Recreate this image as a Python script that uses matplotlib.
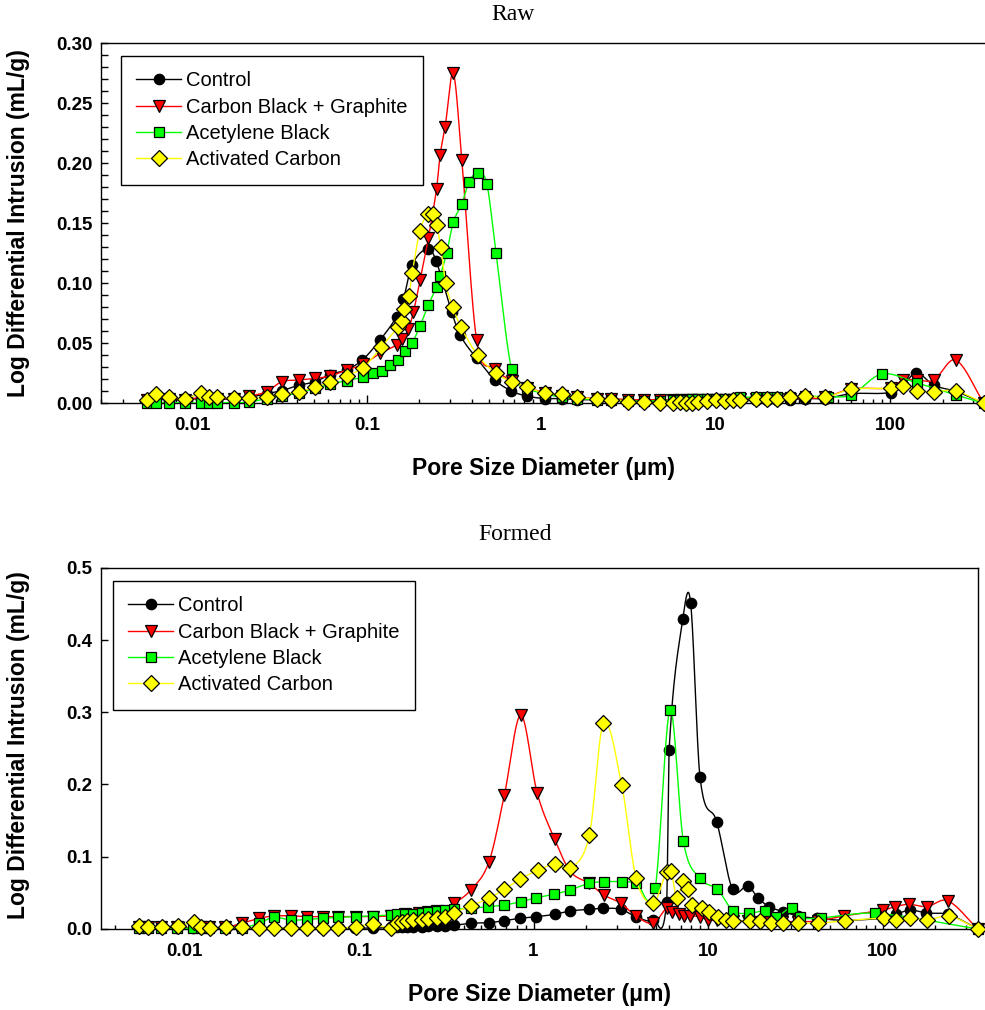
import numpy as np
import matplotlib
matplotlib.use('Agg')
import matplotlib.pyplot as plt
from matplotlib.lines import Line2D
from matplotlib.ticker import FixedLocator, LogLocator, NullFormatter, MultipleLocator, FuncFormatter

# ---------------- data: Raw ----------------
raw_ctrl_d = [0.0055, 0.0062, 0.0073, 0.0091, 0.0112, 0.0124, 0.0139, 0.0172, 0.0212, 0.0266,
              0.0325, 0.0406, 0.0505, 0.0617, 0.0766, 0.0941, 0.119, 0.148, 0.162, 0.181,
              0.225, 0.249, 0.306, 0.342, 0.426, 0.543, 0.669, 0.825, 1.05, 1.31,
              1.61, 2.08, 2.50, 3.15, 3.86, 4.80, 5.70, 6.24, 6.80, 7.30,
              7.90, 8.95, 10.0, 11.3, 12.5, 13.8, 17.0, 19.6, 22.6, 26.6,
              32.6, 42.4, 59.8, 101, 119, 141, 178, 238, 345]
raw_ctrl_v = [0.003, 0.004, 0.003, 0.003, 0.004, 0.003, 0.003, 0.004, 0.005, 0.008,
              0.0105, 0.015, 0.018, 0.024, 0.028, 0.036, 0.0528, 0.0722, 0.0867, 0.115,
              0.129, 0.119, 0.0763, 0.057, 0.0375, 0.0194, 0.0105, 0.006, 0.004, 0.004,
              0.003, 0.003, 0.002, 0.002, 0.002, 0.002, 0.002, 0.002, 0.002, 0.002,
              0.002, 0.003, 0.003, 0.003, 0.003, 0.003, 0.003, 0.003, 0.003, 0.003,
              0.004, 0.004, 0.008, 0.009, 0.015, 0.0255, 0.015, 0.010, 0.0]

raw_cbg_d = [0.0055, 0.0062, 0.0073, 0.0091, 0.0112, 0.0124, 0.0139, 0.0172, 0.0212, 0.0266,
             0.0325, 0.0406, 0.0505, 0.0617, 0.0766, 0.0954, 0.119, 0.148, 0.158, 0.173,
             0.185, 0.202, 0.225, 0.251, 0.263, 0.281, 0.313, 0.350, 0.426, 0.543,
             0.676, 0.830, 1.05, 1.31, 1.61, 2.08, 2.50, 3.15, 3.86, 4.80,
             5.70, 6.24, 6.80, 7.30, 7.90, 8.95, 10.0, 11.3, 12.5, 13.8,
             17.0, 19.6, 22.6, 26.6, 32.6, 42.4, 59.8, 101, 119, 142,
             178, 238, 345]
raw_cbg_v = [0.003, 0.004, 0.004, 0.003, 0.005, 0.004, 0.004, 0.004, 0.006, 0.0097,
             0.018, 0.0194, 0.0208, 0.0228, 0.0278, 0.0325, 0.0417, 0.0486, 0.0533, 0.0617,
             0.0764, 0.1028, 0.1375, 0.179, 0.207, 0.2305, 0.275, 0.2028, 0.0528, 0.029,
             0.0186, 0.013, 0.009, 0.006, 0.005, 0.004, 0.004, 0.003, 0.003, 0.003,
             0.003, 0.003, 0.003, 0.003, 0.003, 0.003, 0.003, 0.003, 0.003, 0.004,
             0.004, 0.004, 0.004, 0.004, 0.004, 0.005, 0.012, 0.013, 0.0194, 0.0194,
             0.0194, 0.036, 0.0]

raw_ab_d = [0.0055, 0.0062, 0.0073, 0.0091, 0.0112, 0.0124, 0.0139, 0.0172, 0.0212, 0.0266,
            0.0325, 0.0406, 0.0505, 0.0617, 0.0766, 0.0954, 0.108, 0.122, 0.136, 0.151,
            0.166, 0.182, 0.202, 0.225, 0.251, 0.263, 0.287, 0.313, 0.350, 0.385,
            0.432, 0.487, 0.550, 0.676, 0.830, 1.05, 1.31, 1.61, 2.08, 2.50,
            3.15, 3.86, 4.80, 5.70, 6.24, 6.80, 7.30, 7.90, 8.95, 10.0,
            11.3, 12.5, 13.8, 17.0, 19.6, 22.6, 26.6, 32.6, 44.2, 59.8,
            89.5, 142, 238, 345]
raw_ab_v = [0.0005, 0.0005, 0.0005, 0.0005, 0.0, 0.0, 0.0005, 0.0005, 0.001, 0.004,
            0.006, 0.0086, 0.0125, 0.0158, 0.019, 0.0217, 0.025, 0.027, 0.032, 0.036,
            0.0436, 0.0505, 0.0647, 0.082, 0.097, 0.106, 0.1255, 0.151, 0.166, 0.1847,
            0.1917, 0.183, 0.125, 0.0283, 0.013, 0.008, 0.005, 0.004, 0.003, 0.003,
            0.002, 0.002, 0.002, 0.003, 0.003, 0.003, 0.004, 0.004, 0.004, 0.004,
            0.004, 0.004, 0.005, 0.005, 0.005, 0.005, 0.005, 0.006, 0.0055, 0.007,
            0.0244, 0.017, 0.007, 0.0]

raw_ac_d = [0.0055, 0.0062, 0.0073, 0.0091, 0.0112, 0.0124, 0.0139, 0.0172, 0.0212, 0.0266,
            0.0325, 0.0406, 0.0505, 0.0617, 0.0766, 0.0954, 0.1205, 0.150, 0.158, 0.164,
            0.174, 0.182, 0.201, 0.225, 0.240, 0.251, 0.265, 0.283, 0.310, 0.345,
            0.432, 0.550, 0.676, 0.830, 1.05, 1.31, 1.61, 2.08, 2.50, 3.15,
            3.86, 4.80, 5.70, 6.24, 6.80, 7.30, 7.90, 8.95, 10.0, 11.3,
            12.5, 13.8, 17.0, 19.6, 22.6, 26.6, 32.6, 42.4, 59.8, 101,
            119, 142, 178, 238, 345]
raw_ac_v = [0.0028, 0.0078, 0.0055, 0.0036, 0.0083, 0.0055, 0.005, 0.0042, 0.0042, 0.005,
            0.0078, 0.0097, 0.0133, 0.018, 0.023, 0.0297, 0.0467, 0.0633, 0.069, 0.079,
            0.0897, 0.109, 0.1436, 0.158, 0.1578, 0.1486, 0.1305, 0.100, 0.0805, 0.0639,
            0.040, 0.025, 0.018, 0.0133, 0.0085, 0.0078, 0.005, 0.0036, 0.0028, 0.0014,
            0.0008, 0.0, 0.0, 0.001, 0.0, 0.0, 0.001, 0.002, 0.003, 0.002,
            0.003, 0.003, 0.0036, 0.0036, 0.0036, 0.0056, 0.0064, 0.005, 0.0117, 0.0125,
            0.0144, 0.0103, 0.0097, 0.0103, 0.0]

# ---------------- data: Formed ----------------
frm_ctrl_d = [0.0055, 0.0062, 0.0073, 0.0091, 0.0112, 0.0124, 0.0139, 0.0172, 0.0212, 0.0266,
              0.0325, 0.0406, 0.0505, 0.0617, 0.0766, 0.0955, 0.120, 0.152, 0.165, 0.176,
              0.188, 0.204, 0.229, 0.250, 0.279, 0.311, 0.350, 0.437, 0.556, 0.678,
              0.837, 1.04, 1.32, 1.62, 2.08, 2.51, 3.17, 3.86, 4.86, 5.79,
              5.98, 7.16, 7.94, 8.99, 11.2, 13.8, 16.9, 19.4, 22.4, 27.0,
              32.8, 41.8, 60.0, 101, 119, 143, 178, 238, 350]
frm_ctrl_v = [0.001, 0.001, 0.001, 0.001, 0.001, 0.001, 0.001, 0.001, 0.001, 0.001,
              0.001, 0.001, 0.001, 0.001, 0.001, 0.001, 0.001, 0.002, 0.002, 0.002,
              0.002, 0.003, 0.003, 0.004, 0.004, 0.004, 0.005, 0.0078, 0.0086, 0.0114,
              0.0147, 0.0169, 0.0202, 0.0248, 0.0271, 0.0285, 0.0271, 0.0169, 0.0123, 0.0377,
              0.248, 0.4288, 0.4518, 0.21, 0.1485, 0.0548, 0.0594, 0.0424, 0.0307, 0.0238,
              0.0179, 0.0147, 0.012, 0.015, 0.02, 0.026, 0.022, 0.02, 0.0]

frm_cbg_d = [0.0055, 0.0062, 0.0073, 0.0091, 0.0112, 0.0124, 0.0139, 0.0172, 0.0213, 0.0269,
             0.0324, 0.0407, 0.0506, 0.062, 0.0762, 0.0962, 0.121, 0.152, 0.184, 0.220,
             0.250, 0.280, 0.350, 0.437, 0.556, 0.681, 0.845, 1.05, 1.32, 1.62,
             2.08, 2.53, 3.16, 3.86, 4.86, 5.79, 6.24, 6.80, 7.30, 7.90,
             8.95, 10.0, 11.3, 12.5, 13.8, 17.0, 19.6, 22.6, 26.6, 32.6,
             42.4, 60.0, 101, 117, 141, 179, 236, 350]
frm_cbg_v = [0.002, 0.002, 0.002, 0.002, 0.002, 0.002, 0.002, 0.002, 0.0078, 0.0147,
             0.0179, 0.018, 0.017, 0.017, 0.017, 0.017, 0.017, 0.018, 0.020, 0.022,
             0.023, 0.025, 0.0355, 0.0539, 0.093, 0.1855, 0.296, 0.188, 0.1245, 0.080,
             0.063, 0.047, 0.0355, 0.0179, 0.0078, 0.0285, 0.0238, 0.020, 0.0179, 0.018,
             0.017, 0.0123, 0.012, 0.011, 0.011, 0.011, 0.010, 0.010, 0.010, 0.010,
             0.011, 0.018, 0.026, 0.0307, 0.034, 0.031, 0.039, 0.0]

frm_ab_d = [0.0055, 0.0062, 0.0073, 0.0091, 0.0112, 0.0124, 0.0139, 0.0172, 0.0213, 0.0269,
            0.0324, 0.0407, 0.0506, 0.062, 0.0762, 0.0962, 0.121, 0.152, 0.165, 0.184,
            0.204, 0.229, 0.250, 0.279, 0.311, 0.350, 0.437, 0.551, 0.680, 0.845,
            1.04, 1.31, 1.62, 2.09, 2.53, 3.20, 3.86, 4.97, 6.05, 7.21,
            8.99, 11.3, 13.9, 17.1, 21.3, 24.5, 30.2, 33.6, 44.6, 90.3,
            350]
frm_ab_v = [0.001, 0.001, 0.001, 0.001, 0.001, 0.001, 0.001, 0.001, 0.001, 0.008,
            0.016, 0.0123, 0.013, 0.0147, 0.016, 0.017, 0.018, 0.0193, 0.020, 0.0206,
            0.021, 0.022, 0.024, 0.025, 0.026, 0.027, 0.0285, 0.0307, 0.033, 0.0377,
            0.0432, 0.0479, 0.0539, 0.0632, 0.0654, 0.0654, 0.064, 0.0562, 0.303, 0.122,
            0.070, 0.0548, 0.0252, 0.0216, 0.0248, 0.0169, 0.0294, 0.016, 0.0155, 0.0216,
            0.0]

frm_ac_d = [0.0055, 0.0062, 0.0074, 0.0092, 0.0113, 0.0124, 0.0140, 0.0173, 0.0213, 0.0269,
            0.0324, 0.0407, 0.0506, 0.062, 0.0762, 0.0962, 0.121, 0.152, 0.165, 0.176,
            0.188, 0.204, 0.229, 0.250, 0.279, 0.311, 0.350, 0.437, 0.556, 0.680,
            0.837, 1.065, 1.33, 1.62, 2.09, 2.51, 3.20, 3.87, 4.86, 5.79,
            6.15, 6.61, 7.21, 7.70, 8.07, 9.20, 10.1, 11.4, 12.7, 13.9,
            17.4, 19.8, 22.9, 27.0, 32.8, 42.4, 60.8, 102, 120, 143,
            179, 240, 350]
frm_ac_v = [0.004, 0.003, 0.003, 0.004, 0.009, 0.003, 0.001, 0.002, 0.002, 0.001,
            0.0015, 0.001, 0.001, 0.001, 0.001, 0.003, 0.0068, 0.001, 0.0078, 0.0099,
            0.0115, 0.012, 0.013, 0.0143, 0.0157, 0.0166, 0.0225, 0.0317, 0.0424, 0.0548,
            0.0687, 0.0816, 0.0895, 0.084, 0.130, 0.2847, 0.1993, 0.070, 0.0363, 0.079,
            0.080, 0.0424, 0.0668, 0.0548, 0.033, 0.0285, 0.0238, 0.017, 0.0123, 0.0107,
            0.011, 0.0107, 0.008, 0.008, 0.008, 0.0075, 0.0114, 0.0147, 0.0123, 0.0147,
            0.0123, 0.0179, 0.0]

labels = ["Control", "Carbon Black + Graphite", "Acetylene Black", "Activated Carbon"]
x_tick_vals = [0.01, 0.1, 1, 10, 100]
x_tick_labels = ["0.01", "0.1", "1", "10", "100"]

# ---------------- styling ----------------
SANS = ['Liberation Sans', 'DejaVu Sans']
SERIF = ['Liberation Serif', 'DejaVu Serif']
styles = [
    dict(color='black', marker='o', ms=7.5, mfc='black'),
    dict(color='#ff0000', marker='v', ms=8.5, mfc='#ff0000'),
    dict(color='#00ff00', marker='s', ms=7.5, mfc='#00ff00'),
    dict(color='#ffff00', marker='D', ms=8.3, mfc='#ffff00'),
]


def smooth(d, v, n=24):
    lx = np.log10(np.asarray(d, float))
    y = np.asarray(v, float)
    m = np.zeros_like(y)
    m[1:-1] = (y[2:] - y[:-2]) / (lx[2:] - lx[:-2])
    m[0] = (y[1] - y[0]) / (lx[1] - lx[0])
    m[-1] = (y[-1] - y[-2]) / (lx[-1] - lx[-2])
    t = np.linspace(0, 1, n)
    h00 = 2 * t**3 - 3 * t**2 + 1
    h10 = t**3 - 2 * t**2 + t
    h01 = -2 * t**3 + 3 * t**2
    h11 = t**3 - t**2
    xs, ys = [], []
    for i in range(len(lx) - 1):
        h = lx[i + 1] - lx[i]
        xs.append(lx[i] + t * h)
        ys.append(h00 * y[i] + h10 * h * m[i] + h01 * y[i + 1] + h11 * h * m[i + 1])
    return 10 ** np.concatenate(xs), np.concatenate(ys)


def draw(ax, series, xlim, ylim, ymajor, yminor, yfmt):
    for k, (d, v) in enumerate(series):
        st = styles[k]
        sx, sy = smooth(d, v)
        ax.plot(sx, sy, '-', color=st['color'], lw=1.0, zorder=2 + 2 * k)
        ax.plot(d, v, linestyle='none', marker=st['marker'], ms=st['ms'],
                mfc=st['mfc'], mec='black', mew=0.9, zorder=3 + 2 * k, clip_on=False)
    ax.set_xscale('log')
    ax.set_xlim(*xlim)
    ax.set_ylim(*ylim)
    ax.xaxis.set_major_locator(FixedLocator(x_tick_vals))
    ax.xaxis.set_major_formatter(FuncFormatter(
        lambda x, p: x_tick_labels[x_tick_vals.index(x)] if x in x_tick_vals else ''))
    ax.xaxis.set_minor_locator(LogLocator(base=10, subs=np.arange(2, 10), numticks=20))
    ax.xaxis.set_minor_formatter(NullFormatter())
    ax.yaxis.set_major_locator(MultipleLocator(ymajor))
    if yminor:
        ax.yaxis.set_minor_locator(MultipleLocator(yminor))
    ax.yaxis.set_major_formatter(FuncFormatter(lambda y, p: yfmt.format(y)))
    ax.tick_params(axis='x', which='major', direction='in', length=6, width=1, pad=10)
    ax.tick_params(axis='x', which='minor', direction='in', length=3, width=1)
    ax.tick_params(axis='y', which='both', direction='in', length=5, width=1, pad=6)
    ax.tick_params(top=False, right=False, which='both')
    for lab in ax.get_xticklabels() + ax.get_yticklabels():
        lab.set_fontfamily(SANS)
        lab.set_fontweight('bold')
        lab.set_fontsize(13.5)
    for sp in ax.spines.values():
        sp.set_linewidth(1.0)
    ax.set_xlabel('Pore Size Diameter (\u03bcm)', fontsize=16.5, fontweight='bold', family=SANS)
    ax.set_ylabel('Log Differential Intrusion (mL/g)', fontsize=16.5, fontweight='bold', family=SANS)


def legend(ax, anchor):
    handles = [Line2D([0], [0], color=s['color'], lw=1.0, marker=s['marker'], ms=s['ms'],
                      mfc=s['mfc'], mec='black', mew=0.9) for s in styles]
    lg = ax.legend(handles, labels, loc='upper left', bbox_to_anchor=anchor, borderaxespad=0,
                   frameon=True, fancybox=False, edgecolor='black', framealpha=1,
                   prop={'family': SANS, 'size': 14.5}, handlelength=2.25, handletextpad=0.25,
                   labelspacing=0.37, borderpad=0.75)
    lg.get_frame().set_linewidth(1.0)
    lg.set_zorder(20)


fig = plt.figure(figsize=(9.85, 10.10), dpi=100)

ax1 = fig.add_axes([0.10284, 0.60069, 0.90741, 0.35644])
draw(ax1, [(raw_ctrl_d, raw_ctrl_v), (raw_cbg_d, raw_cbg_v), (raw_ab_d, raw_ab_v), (raw_ac_d, raw_ac_v)],
     (0.003, 400), (0, 0.30), 0.05, 0.01, '{:.2f}')
ax1.spines['right'].set_visible(False)
ax1.xaxis.set_label_coords(0.495, -0.150)
ax1.yaxis.set_label_coords(-0.0800, 0.5)
legend(ax1, (0.022, 0.9647))

ax2 = fig.add_axes([0.10254, 0.08030, 0.89066, 0.35743])
draw(ax2, [(frm_ctrl_d, frm_ctrl_v), (frm_cbg_d, frm_cbg_v), (frm_ab_d, frm_ab_v), (frm_ac_d, frm_ac_v)],
     (0.00333, 353), (0, 0.5), 0.1, None, '{:.1f}')
ax2.xaxis.set_label_coords(0.5, -0.150)
ax2.yaxis.set_label_coords(-0.0815, 0.51)
legend(ax2, (0.0137, 0.9637))

fig.text(513 / 985, 1 - 15 / 1010, 'Raw', ha='center', va='center', fontsize=17, family=SERIF)
fig.text(515 / 985, 1 - 535 / 1010, 'Formed', ha='center', va='center', fontsize=17, family=SERIF)

fig.savefig('out.png', dpi=100)
